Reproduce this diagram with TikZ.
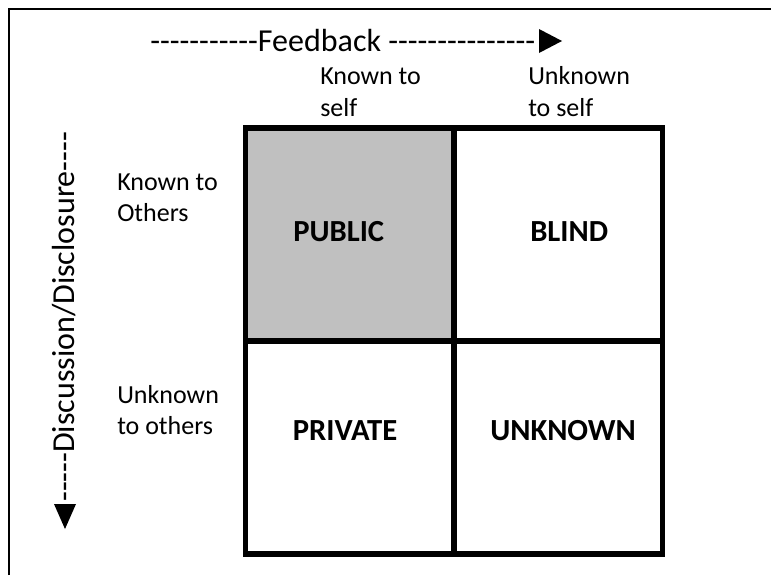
\documentclass[tikz,border=0pt]{standalone}
\usepackage{fontspec}
\setmainfont{Carlito}[Ligatures=TeXOff]
\definecolor{cellgray}{RGB}{192,192,192}
\begin{document}
\begin{tikzpicture}[x=0.75pt,y=-0.75pt,
  cellbox/.style={draw=black, line width=4.1pt, inner sep=0pt, outer sep=0pt,
    minimum width=156.4pt, minimum height=159.75pt},
  quadlabel/.style={anchor=base west, inner sep=0pt, font=\fontsize{23}{28}\selectfont\bfseries},
  sidelabel/.style={anchor=base west, inner sep=0pt, font=\fontsize{19.5}{24}\selectfont},
  headlabel/.style={anchor=base west, inner sep=0pt, font=\fontsize{24}{29}\selectfont},
  pointer/.style={fill=black, draw=none}]
\useasboundingbox (0,0) rectangle (771,575);
% outer frame (only top and left visible)
\draw[line width=1.1pt] (9,575) -- (9,9) -- (771,9);
% cells
\node[cellbox, fill=cellgray] (pub) at (349.75,234.5) {};
\node[cellbox] (bli) at (558.25,234.5) {};
\node[cellbox] (pri) at (349.75,447.5) {};
\node[cellbox] (unk) at (558.25,447.5) {};
% quadrant labels
\node[quadlabel] (tpub) at (293,241.5) {PUBLIC};
\node[quadlabel] (tbli) at (530,241.5) {BLIND};
\node[quadlabel] (tpri) at (292.5,440) {PRIVATE};
\node[quadlabel] (tunk) at (490,440) {UNKNOWN};
% heading
\node[headlabel] (fb) at (150,51) {-----------Feedback ---------------};
\path[pointer] (539,29) -- (562,41) -- (539,53) -- cycle;
% column labels
\node[sidelabel] (ks1) at (320,84) {Known to};
\node[sidelabel] (ks2) at (320,116) {self};
\node[sidelabel] (us1) at (528,84) {Unknown};
\node[sidelabel] (us2) at (528,116) {to self};
% row labels
\node[sidelabel] (ko1) at (117,190) {Known to};
\node[sidelabel] (ko2) at (117,221) {Others};
\node[sidelabel] (uo1) at (117,403) {Unknown};
\node[sidelabel] (uo2) at (117,434) {to others};
% vertical label
\node[headlabel, rotate=90] (dd) at (74,502) {-----Discussion/Disclosure----};
\path[pointer] (54,504) -- (76,504) -- (65,529) -- cycle;
\end{tikzpicture}
\end{document}
